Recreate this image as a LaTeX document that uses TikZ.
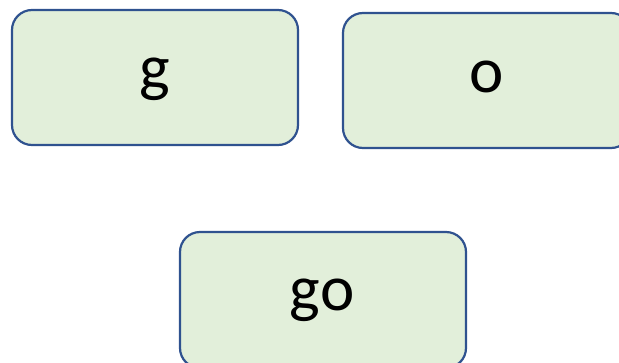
\documentclass[tikz,border=0pt]{standalone}
\usepackage{fontspec}
\setmainfont{Carlito}
\definecolor{boxfill}{HTML}{E2EFDA}
\definecolor{boxline}{HTML}{2F528F}
\begin{document}
\begin{tikzpicture}[x=1pt,y=-1pt,
  card/.style={draw=boxline,fill=boxfill,line width=2.2pt,rounded corners=20pt},
  lbl/.style={font=\fontsize{65}{70}\selectfont,anchor=base,inner sep=0pt}]
\useasboundingbox (0,0) rectangle (619,362);
\clip (0,0) rectangle (619,362);
\draw[card] (12,10) rectangle (298,145);
\draw[card] (343,13) rectangle (631,148);
\draw[card] (180,232) rectangle (466,368);
\node[lbl] (g) at (155,89) {g};
\node[lbl] (o) at (487,92) {o};
\node[lbl] (go) at (322,310) {go};
\end{tikzpicture}
\end{document}
